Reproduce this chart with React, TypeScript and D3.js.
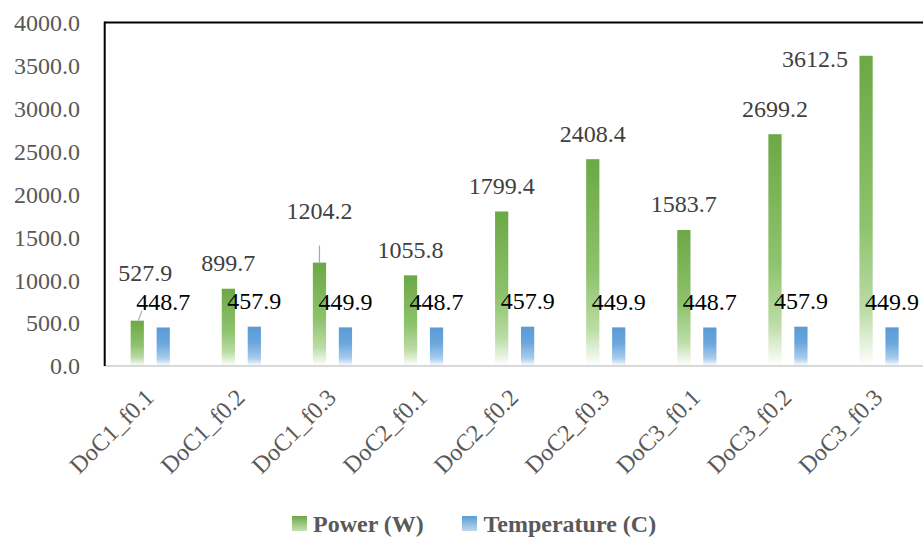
import React from "react";
import * as d3 from "d3";

const categories = [
  "DoC1_f0.1", "DoC1_f0.2", "DoC1_f0.3",
  "DoC2_f0.1", "DoC2_f0.2", "DoC2_f0.3",
  "DoC3_f0.1", "DoC3_f0.2", "DoC3_f0.3",
];
const power = [527.9, 899.7, 1204.2, 1055.8, 1799.4, 2408.4, 1583.7, 2699.2, 3612.5];
const temperature = [448.7, 457.9, 449.9, 448.7, 457.9, 449.9, 448.7, 457.9, 449.9];
const yTicks = [0, 500, 1000, 1500, 2000, 2500, 3000, 3500, 4000];
const seriesNames = ["Power (W)", "Temperature (C)"];

// manual label placement tweaks (pixels), as in the original chart
const powerLabelShift: Record<number, { dx: number; dy: number; leader?: boolean }> = {
  0: { dx: 8, dy: -22, leader: true },
  2: { dx: 0, dy: -26, leader: true },
  8: { dx: -51, dy: 29 },
};

const W = 923;
const H = 541;
const FONT = "'Liberation Serif', 'DejaVu Serif', serif";

export default function App() {
  const x = d3.scaleBand<string>().domain(categories).range([104.7, 924.6]).padding(0);
  const x1 = d3
    .scaleBand<string>()
    .domain(["power", "temp"])
    .range([0, x.bandwidth()])
    .paddingInner(0.49)
    .paddingOuter(1);
  const y = d3.scaleLinear().domain([0, 4000]).range([366, 22.5]);
  const fmt = d3.format(".1f");
  const bw = x1.bandwidth();
  const left = x.range()[0];

  return (
    <svg
      width={W}
      height={H}
      style={{ position: "absolute", left: 0, top: 0, background: "#fff" }}
      fontFamily={FONT}
    >
      <defs>
        <linearGradient id="gGreen" x1="0" y1="0" x2="0" y2="1">
          <stop offset="0" stopColor="#6ca845" />
          <stop offset="0.55" stopColor="#8ec36d" />
          <stop offset="0.82" stopColor="#bcdca6" />
          <stop offset="1" stopColor="#ffffff" />
        </linearGradient>
        <linearGradient id="gBlue" x1="0" y1="0" x2="0" y2="1">
          <stop offset="0" stopColor="#5b9bd5" />
          <stop offset="0.4" stopColor="#6aa6dc" />
          <stop offset="0.8" stopColor="#a8cbec" />
          <stop offset="1" stopColor="#ffffff" />
        </linearGradient>
        <linearGradient id="gGreenL" x1="0" y1="0" x2="0" y2="1">
          <stop offset="0" stopColor="#6ca845" />
          <stop offset="1" stopColor="#c5e0b4" />
        </linearGradient>
        <linearGradient id="gBlueL" x1="0" y1="0" x2="0" y2="1">
          <stop offset="0" stopColor="#5b9bd5" />
          <stop offset="1" stopColor="#bdd7ee" />
        </linearGradient>
      </defs>

      {/* y tick labels */}
      {yTicks.map((t) => (
        <text
          key={t}
          x={80}
          y={y(t)}
          dy="0.35em"
          textAnchor="end"
          fontSize={24}
          fill="#595959"
        >
          {fmt(t)}
        </text>
      ))}

      {/* bars */}
      {categories.map((c, i) => {
        const x0 = x(c)!;
        return (
          <g key={c}>
            <rect
              x={x0 + x1("power")!}
              y={y(power[i])}
              width={bw}
              height={y(0) - y(power[i])}
              fill="url(#gGreen)"
            />
            <rect
              x={x0 + x1("temp")!}
              y={y(temperature[i])}
              width={bw}
              height={y(0) - y(temperature[i])}
              fill="url(#gBlue)"
            />
          </g>
        );
      })}

      {/* axes / frame */}
      <line x1={left} x2={W} y1={y(0)} y2={y(0)} stroke="#d9d9d9" strokeWidth={2} />
      <line x1={left} x2={W} y1={y(4000)} y2={y(4000)} stroke="#000" strokeWidth={2} />
      <line x1={left} x2={left} y1={y(4000) - 1} y2={y(0)} stroke="#000" strokeWidth={2} />

      {/* leader lines */}
      {categories.map((c, i) => {
        const s = powerLabelShift[i];
        if (!s || !s.leader) return null;
        const cx = x(c)! + x1("power")! + bw / 2;
        const top = y(power[i]);
        if (i === 0) {
          return (
            <line key={"l" + c} x1={cx + 1} y1={top} x2={cx + 4.7} y2={top - 10} stroke="#a6a6a6" strokeWidth={1.2} />
          );
        }
        return (
          <line key={"l" + c} x1={cx} y1={top} x2={cx} y2={top + s.dy - 8.5 + 17.5} stroke="#a6a6a6" strokeWidth={1.2} />
        );
      })}

      {/* power labels */}
      {categories.map((c, i) => {
        const s = powerLabelShift[i] || { dx: 0, dy: 0 };
        const cx = x(c)! + x1("power")! + bw / 2;
        return (
          <text
            key={"p" + c}
            x={cx + s.dx}
            y={y(power[i]) - 17.5 + s.dy}
            textAnchor="middle"
            fontSize={24}
            fill="#404040"
          >
            {fmt(power[i])}
          </text>
        );
      })}

      {/* temperature labels */}
      {categories.map((c, i) => {
        const cx = x(c)! + x1("temp")! + bw / 2;
        return (
          <text
            key={"t" + c}
            x={cx}
            y={y(temperature[i]) - 17.5}
            textAnchor="middle"
            fontSize={24}
            fill="#000"
          >
            {fmt(temperature[i])}
          </text>
        );
      })}

      {/* x labels */}
      {categories.map((c) => {
        const px = x(c)! + x.bandwidth() / 2 + 5;
        const py = 399;
        return (
          <text
            key={"x" + c}
            transform={`translate(${px},${py}) rotate(-45)`}
            textAnchor="end"
            fontSize={24}
            fill="#595959"
          >
            {c}
          </text>
        );
      })}

      {/* legend */}
      <g>
        <rect x={292} y={516} width={15} height={15} fill="url(#gGreenL)" />
        <text x={313} y={523.5} dy="0.35em" fontSize={24} fontWeight="bold" fill="#595959">
          {seriesNames[0]}
        </text>
        <rect x={462} y={516} width={15} height={15} fill="url(#gBlueL)" />
        <text x={483.5} y={523.5} dy="0.35em" fontSize={24} fontWeight="bold" fill="#595959">
          {seriesNames[1]}
        </text>
      </g>
    </svg>
  );
}
